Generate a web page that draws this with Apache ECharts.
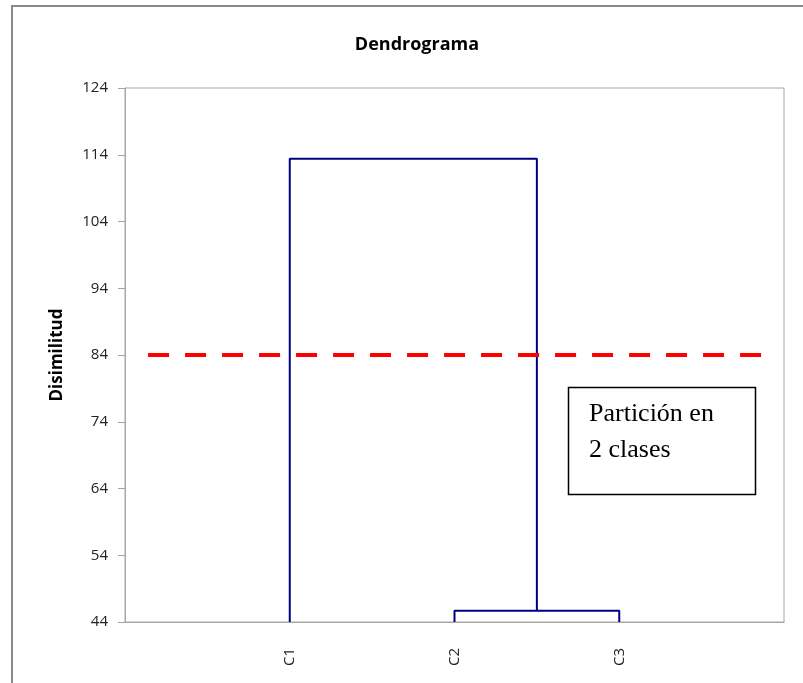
<!DOCTYPE html>
<html>
<head>
<meta charset="utf-8">
<script src="https://cdn.jsdelivr.net/npm/echarts@6/dist/echarts.min.js"></script>
<style>
  html, body { margin: 0; padding: 0; background: #fff; }
  #chart { width: 803px; height: 683px; }
</style>
</head>
<body>
<div id="chart"></div>
<script>
// datos del dendrograma
var leaves = ['C1', 'C2', 'C3'];
var leafPos = [1, 2, 3];
var mergeHeights = [45.7, 113.4]; // C2+C3, luego C1+(C2,C3)
var cutHeight = 84;
var cutRange = [0.14, 3.885];
var yMin = 44, yMax = 124, yStep = 10;

var myChart = echarts.init(document.getElementById('chart'));

// rama baja: C2 - C3
var mid23 = (leafPos[1] + leafPos[2]) / 2;
var branchLow = [
  [leafPos[1], yMin],
  [leafPos[1], mergeHeights[0]],
  [leafPos[2], mergeHeights[0]],
  [leafPos[2], yMin]
];
// rama alta: C1 - (C2,C3)
var branchHigh = [
  [leafPos[0], yMin],
  [leafPos[0], mergeHeights[1]],
  [mid23, mergeHeights[1]],
  [mid23, mergeHeights[0]]
];

var navy = '#000080';

var option = {
  animation: false,
  title: {
    text: 'Dendrograma',
    left: 412,
    top: 31,
    textAlign: 'center',
    textStyle: { fontFamily: 'Open Sans', fontSize: 18, fontWeight: 'bold', color: '#000' }
  },
  grid: {
    left: 125, top: 88, right: 19, bottom: 61,
    show: true, borderColor: '#a6a6a6', borderWidth: 1
  },
  xAxis: {
    type: 'value',
    min: 0, max: 4, interval: 1,
    splitLine: { show: false },
    axisLine: { show: true, lineStyle: { color: '#a6a6a6' } },
    axisTick: { show: false },
    axisLabel: {
      rotate: 90,
      margin: 26,
      color: '#222',
      fontFamily: 'Open Sans',
      fontSize: 15,
      formatter: function (v) {
        var i = leafPos.indexOf(v);
        return i >= 0 ? leaves[i] : '';
      }
    }
  },
  yAxis: {
    type: 'value',
    min: yMin, max: yMax, interval: yStep,
    name: 'Disimilitud',
    nameLocation: 'middle',
    nameGap: 59,
    nameTextStyle: { fontFamily: 'Open Sans', fontSize: 17, fontWeight: 'bold', color: '#000' },
    splitLine: { show: false },
    axisLine: { show: true, lineStyle: { color: '#a6a6a6' } },
    axisTick: { show: true, length: 7, lineStyle: { color: '#a6a6a6' } },
    axisLabel: { color: '#222', fontFamily: 'Open Sans', fontSize: 15, margin: 17 }
  },
  series: [
    {
      type: 'line', data: branchHigh, symbol: 'none',
      lineStyle: { color: navy, width: 2 }
    },
    {
      type: 'line', data: branchLow, symbol: 'none',
      lineStyle: { color: navy, width: 2 }
    },
    {
      type: 'line',
      data: [[cutRange[0], cutHeight], [cutRange[1], cutHeight]],
      symbol: 'none',
      lineStyle: { color: '#ff0000', width: 4, type: [21, 16] }
    }
  ],
  graphic: [
    {
      type: 'rect',
      shape: { x: 12, y: 6, width: 800, height: 690 },
      style: { fill: 'none', stroke: '#888', lineWidth: 2 },
      silent: true
    },
    {
      type: 'rect',
      shape: { x: 568.5, y: 387.5, width: 187, height: 107 },
      style: { fill: '#fff', stroke: '#000', lineWidth: 1.5 },
      z: 100
    },
    {
      type: 'text',
      left: 589, top: 396,
      z: 101,
      style: {
        text: 'Partición en\n2 clases',
        font: '26px "Liberation Serif"',
        lineHeight: 36,
        fill: '#000'
      }
    }
  ]
};

myChart.setOption(option);
</script>
</body>
</html>
